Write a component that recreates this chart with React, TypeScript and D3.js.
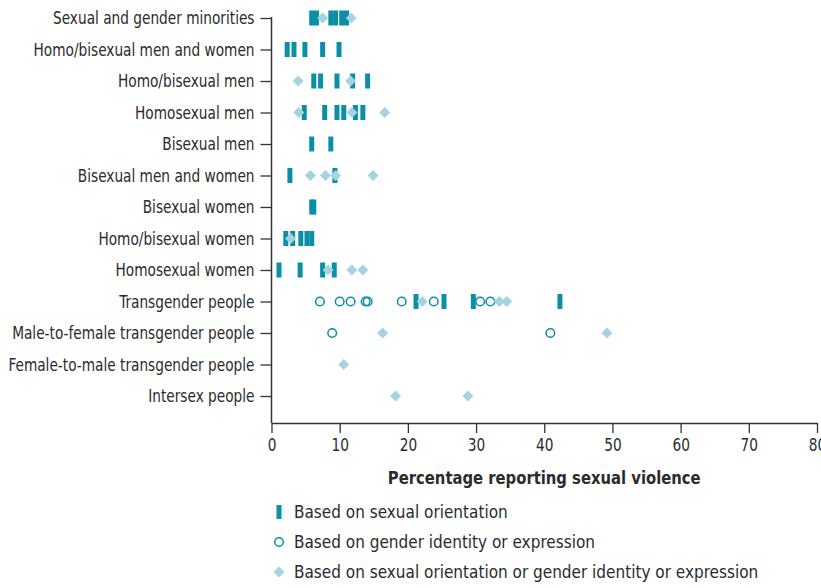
import React, { useEffect, useRef } from "react";
import * as d3 from "d3";

// Row labels, top to bottom
const groups = [
  "Sexual and gender minorities",
  "Homo/bisexual men and women",
  "Homo/bisexual men",
  "Homosexual men",
  "Bisexual men",
  "Bisexual men and women",
  "Bisexual women",
  "Homo/bisexual women",
  "Homosexual women",
  "Transgender people",
  "Male-to-female transgender people",
  "Female-to-male transgender people",
  "Intersex people",
];

// Based on sexual orientation (bars)
const orientationValues = [
  [5.9, 6.6, 8.7, 9.4, 10.3, 11.0],
  [2.3, 3.3, 4.9, 7.5, 9.9],
  [6.2, 7.2, 9.6, 11.9, 14.1],
  [4.8, 7.8, 9.6, 10.6, 12.3, 13.4],
  [5.9, 8.7],
  [2.7, 9.3],
  [5.9, 6.2],
  [2.1, 3.1, 4.3, 5.2, 5.9],
  [1.1, 4.2, 7.5, 9.2],
  [21.2, 25.3, 29.6, 42.3],
  [],
  [],
  [],
];

// Based on gender identity or expression (circles)
const identityValues = [
  [], [], [], [], [], [], [], [], [],
  [7.1, 10.0, 11.6, 13.8, 14.1, 19.1, 23.8, 30.6, 32.1],
  [8.9, 40.9],
  [],
  [],
];

// Based on sexual orientation or gender identity or expression (diamonds)
const eitherValues = [
  [7.5, 11.7],
  [],
  [3.9, 11.6],
  [4.0, 11.8, 16.6],
  [],
  [5.7, 7.9, 9.4, 14.9],
  [],
  [2.8],
  [8.3, 11.8, 13.4],
  [22.1, 33.4, 34.5],
  [16.3, 49.2],
  [10.6],
  [18.2, 28.8],
];

const xTicks = [0, 10, 20, 30, 40, 50, 60, 70, 80];

const legendLabels = [
  "Based on sexual orientation",
  "Based on gender identity or expression",
  "Based on sexual orientation or gender identity or expression",
];

const DARK = "#0a8fa5";
const LIGHT = "#a5d4e1";
const TEXT = "#2b2b2b";
const FONT = "'DejaVu Sans Condensed', 'Open Sans', sans-serif";
const SQUEEZE = 0.87; // the original labels use a condensed face

export default function App() {
  const ref = useRef<SVGSVGElement>(null);

  useEffect(() => {
    const svg = d3.select(ref.current);
    svg.selectAll("*").remove();

    const axisLeft = 271.5;
    const axisRight = 817;
    const axisBottom = 423;

    const x = d3.scaleLinear().domain([0, 80]).range([axisLeft, axisRight]);
    const y = d3
      .scalePoint<string>()
      .domain(groups)
      .range([18, 396]);

    // ----------------- AXES -----------------

    const xAxis = svg
      .append("g")
      .attr("transform", "translate(0," + axisBottom + ")")
      .call(d3.axisBottom(x).tickValues(xTicks).tickSize(10).tickSizeOuter(0));
    xAxis.select(".domain").attr("stroke", "#333").attr("stroke-width", 1.5);
    xAxis.selectAll(".tick line").attr("stroke", "#333").attr("stroke-width", 1.3);
    xAxis
      .selectAll(".tick text")
      .attr("y", 0)
      .attr("dy", 0)
      .attr("transform", "translate(0,28) scale(" + SQUEEZE + ",1)")
      .attr("fill", TEXT)
      .style("font-family", FONT)
      .style("font-size", "17.5px");

    const yAxis = svg
      .append("g")
      .attr("transform", "translate(" + axisLeft + ",0)")
      .call(d3.axisLeft(y).tickSize(11).tickPadding(6).tickSizeOuter(0));
    yAxis.select(".domain").remove();
    yAxis
      .append("line")
      .attr("y1", y(groups[0])! - 1)
      .attr("y2", axisBottom)
      .attr("stroke", "#333")
      .attr("stroke-width", 1.5);
    yAxis.selectAll(".tick line").attr("stroke", "#333").attr("stroke-width", 1.3);
    yAxis
      .selectAll(".tick text")
      .attr("x", 0)
      .attr("transform", "translate(-17,0) scale(" + SQUEEZE + ",1)")
      .attr("fill", TEXT)
      .style("font-family", FONT)
      .style("font-size", "17.5px");

    // axis title
    svg
      .append("text")
      .attr("transform", "translate(" + (axisLeft + axisRight) / 2 + ",484) scale(0.89,1)")
      .attr("text-anchor", "middle")
      .attr("fill", TEXT)
      .style("font-family", FONT)
      .style("font-size", "18.5px")
      .style("font-weight", "bold")
      .text("Percentage reporting sexual violence");

    // ----------------- MARKS -----------------

    const marks = svg.append("g");

    groups.forEach((group, i) => {
      const cy = y(group)!;

      orientationValues[i].forEach(v => {
        marks
          .append("rect")
          .attr("x", x(v) - 2.5)
          .attr("y", cy - 7.5)
          .attr("width", 5)
          .attr("height", 15)
          .attr("fill", DARK);
      });

      identityValues[i].forEach(v => {
        marks
          .append("circle")
          .attr("cx", x(v))
          .attr("cy", cy)
          .attr("r", 4.3)
          .attr("fill", "none")
          .attr("stroke", DARK)
          .attr("stroke-width", 1.5);
      });

      eitherValues[i].forEach(v => {
        marks
          .append("path")
          .attr("d", d3.symbol(d3.symbolSquare, 60)()!)
          .attr("transform", "translate(" + x(v) + "," + cy + ") rotate(45)")
          .attr("fill", LIGHT);
      });
    });

    // ----------------- LEGEND -----------------

    const legend = svg.append("g").attr("transform", "translate(279,0)");
    const legendY = [512, 542, 572];

    legend
      .append("rect")
      .attr("x", -2.5)
      .attr("y", legendY[0] - 7)
      .attr("width", 5)
      .attr("height", 14)
      .attr("fill", DARK);
    legend
      .append("circle")
      .attr("cy", legendY[1])
      .attr("r", 4.3)
      .attr("fill", "none")
      .attr("stroke", DARK)
      .attr("stroke-width", 1.5);
    legend
      .append("path")
      .attr("d", d3.symbol(d3.symbolSquare, 60)()!)
      .attr("transform", "translate(0," + legendY[2] + ") rotate(45)")
      .attr("fill", LIGHT);

    legendLabels.forEach((label, i) => {
      legend
        .append("text")
        .attr("x", 15)
        .attr("y", legendY[i])
        .attr("dy", "0.35em")
        .attr("fill", TEXT)
        .style("font-family", FONT)
        .style("font-size", "17px")
        .text(label);
    });
  }, []);

  return (
    <div style={{ position: "absolute", left: 0, top: 0 }}>
      <svg ref={ref} width={821} height={588} style={{ display: "block", background: "white" }} />
    </div>
  );
}
